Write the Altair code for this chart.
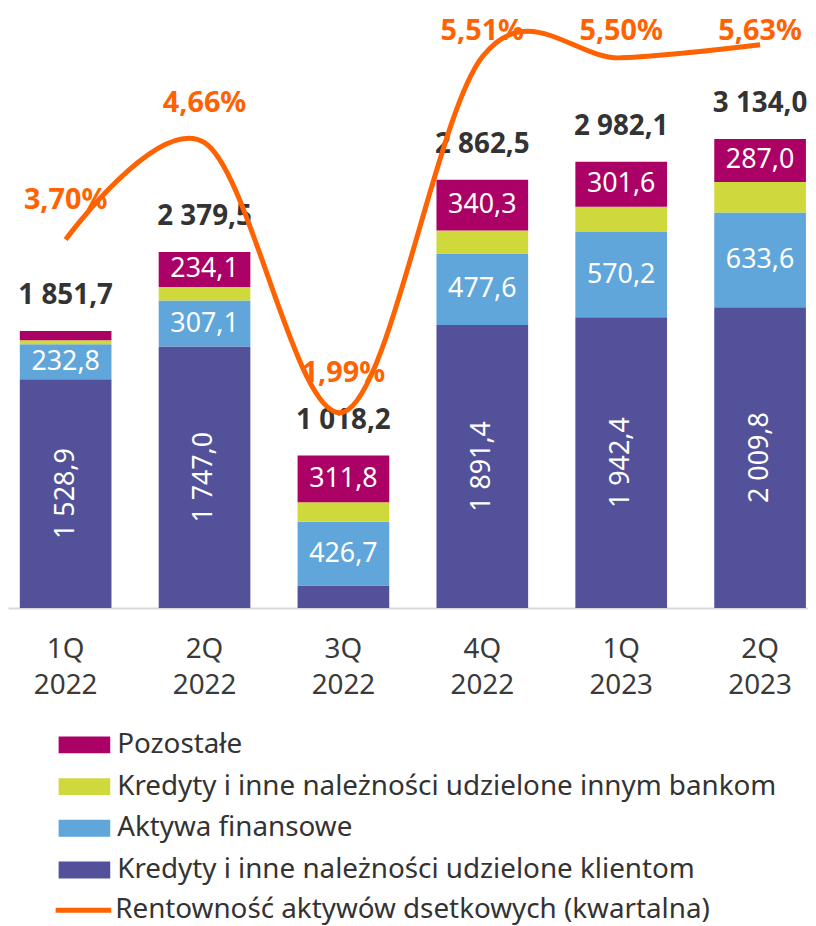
import altair as alt
import pandas as pd

quarters = ["1Q 2022", "2Q 2022", "3Q 2022", "4Q 2022", "1Q 2023", "2Q 2023"]
kredyty_klienci = [1528.9, 1747.0, 149.7, 1891.4, 1942.4, 2009.8]
aktywa_fin = [232.8, 307.1, 426.7, 477.6, 570.2, 633.6]
kredyty_banki = [27.0, 91.3, 130.0, 153.2, 167.9, 203.6]
pozostale = [63.0, 234.1, 311.8, 340.3, 301.6, 287.0]
sumy = [1851.7, 2379.5, 1018.2, 2862.5, 2982.1, 3134.0]
rentownosc = [3.70, 4.66, 1.99, 5.51, 5.50, 5.63]

series_names = [
    "Kredyty i inne należności udzielone klientom",
    "Aktywa finansowe",
    "Kredyty i inne należności udzielone innym bankom",
    "Pozostałe",
]
series_colors = ["#525199", "#60A6DA", "#D0D93C", "#AB0066"]
line_name = "Rentowność aktywów dsetkowych (kwartalna)"
line_color = "#FF6200"

FONT = "Noto Sans"
TXT = "#333333"


def pl(v, d=1):
    return f"{v:,.{d}f}".replace(",", " ").replace(".", ",")


rows = []
for i, q in enumerate(quarters):
    for k, vals in enumerate([kredyty_klienci, aktywa_fin, kredyty_banki, pozostale]):
        v = vals[i]
        rows.append({
            "q": q, "series": series_names[k], "idx": k, "value": v,
            "label": pl(v), "show": (k != 2 and v >= 200), "rot": k == 0,
        })
df = pd.DataFrame(rows)
df_tot = pd.DataFrame({"q": quarters, "total": sumy, "tlabel": [pl(v) for v in sumy]})
df_line = pd.DataFrame({"q": quarters, "r": rentownosc, "name": line_name,
                        "rlabel": [pl(v, 2) + "%" for v in rentownosc]})

X = alt.X("q:N", sort=quarters, title=None,
          scale=alt.Scale(paddingInner=0.34, paddingOuter=0.05, align=0.85),
          axis=alt.Axis(labelAngle=0, labelExpr="split(datum.label, ' ')",
                        labelFontSize=28, labelFont=FONT, labelColor="#3a3a3a",
                        labelLineHeight=36, labelPadding=28, ticks=False,
                        domainColor="#D9D9D9", domainWidth=2, grid=False))
Y1 = alt.Scale(domain=[0, 3980], nice=False, zero=True)
Y2 = alt.Scale(domain=[0.05, 5.95], nice=False, zero=False)

bars = alt.Chart(df).mark_bar().encode(
    x=X,
    y=alt.Y("value:Q", stack="zero", scale=Y1, axis=None),
    color=alt.Color("series:N",
                    scale=alt.Scale(domain=list(reversed(series_names)),
                                    range=list(reversed(series_colors))),
                    legend=alt.Legend(title=None, orient="none", legendX=63, legendY=724,
                                      direction="vertical",
                                      symbolType="M-2,-0.654L2,-0.654L2,0.654L-2,0.654Z",
                                      symbolSize=676, symbolStrokeWidth=0, symbolOpacity=1,
                                      labelFontSize=28, labelFont=FONT, labelColor=TXT,
                                      labelLimit=1000, rowPadding=14, labelOffset=19,
                                      padding=0)),
    order=alt.Order("idx:Q", sort="ascending"),
)

seg = alt.Chart(df).transform_stack(
    stack="value", groupby=["q"], sort=[alt.SortField("idx", order="ascending")],
    as_=["y0", "y1"],
).transform_calculate(mid="(datum.y0 + datum.y1) / 2").transform_filter("datum.show")

seg_rot = seg.transform_filter("datum.rot").mark_text(
    angle=270, fontSize=27, font=FONT, color="white", baseline="middle", align="center"
).encode(x=X, y=alt.Y("mid:Q", scale=Y1, axis=None), text="label:N")

seg_hor = seg.transform_filter("!datum.rot").mark_text(
    fontSize=27, font=FONT, color="white", baseline="middle", align="center"
).encode(x=X, y=alt.Y("mid:Q", scale=Y1, axis=None), text="label:N")

tot = alt.Chart(df_tot).mark_text(
    dy=-35, fontSize=28, fontWeight="bold", font=FONT, color=TXT, baseline="middle"
).encode(x=X, y=alt.Y("total:Q", scale=Y1, axis=None), text="tlabel:N")

line = alt.Chart(df_line).mark_line(interpolate="cardinal", strokeWidth=5).encode(
    x=X,
    y=alt.Y("r:Q", scale=Y2, axis=None),
    stroke=alt.Stroke("name:N", scale=alt.Scale(domain=[line_name], range=[line_color]),
                      legend=alt.Legend(title=None, orient="none", legendX=45.5, legendY=874,
                                        symbolType="stroke", symbolSize=3136,
                                        symbolStrokeWidth=5,
                                        labelFontSize=28, labelFont=FONT, labelColor=TXT,
                                        labelLimit=1000, labelOffset=1.5, padding=0)),
)

line_lbl = alt.Chart(df_line).transform_calculate(
    ly="min(datum.r + 0.39, 5.77)"
).mark_text(fontSize=29, fontWeight="bold", font=FONT, color=line_color,
            baseline="middle").encode(
    x=X, y=alt.Y("ly:Q", scale=Y2, axis=None), text="rlabel:N")

chart = alt.layer(bars, seg_rot, seg_hor, tot, line, line_lbl).resolve_scale(
    y="independent"
).properties(
    width=806, height=600,
    padding={"left": 0, "top": 1, "right": 0, "bottom": 0},
).configure(background="white").configure_view(stroke=None)

chart.save("out.html", embed_options={"renderer": "svg", "actions": False})
